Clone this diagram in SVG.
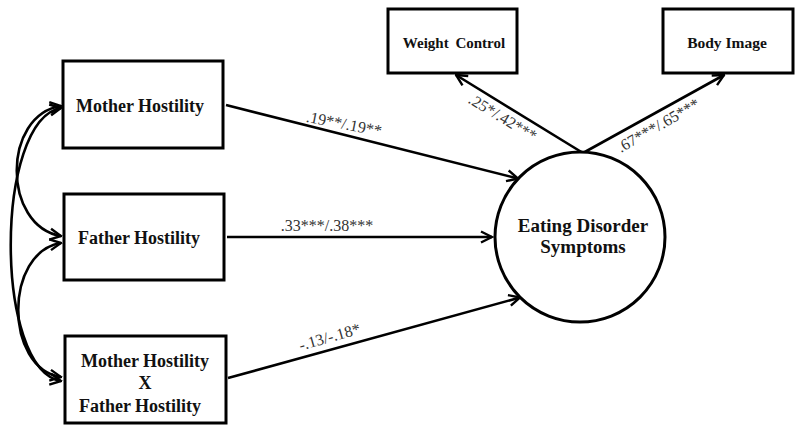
<svg xmlns="http://www.w3.org/2000/svg" width="800" height="432" viewBox="0 0 800 432">
<style>
.box{fill:#fff;stroke:#000;stroke-width:3}
.lbl{font-family:'Liberation Serif','Tinos','Times New Roman','DejaVu Serif',serif;font-weight:bold;fill:#111}
.coef{font-family:'Liberation Serif','Tinos','Times New Roman','DejaVu Serif',serif;font-size:16px;fill:#333}
.conn{fill:none;stroke:#000;stroke-width:2.6}
</style>
<defs>
<marker id="arr" viewBox="0 0 14 14" refX="12.5" refY="7" markerWidth="14" markerHeight="14" markerUnits="userSpaceOnUse" orient="auto-start-reverse">
<path d="M1.5,1.5 L12.5,7 L1.5,12.5" fill="none" stroke="#000" stroke-width="2.4" stroke-linejoin="miter"/>
</marker>
</defs>
<rect width="800" height="432" fill="#fff"/>
<g id="connectors">
<path class="conn" d="M226,105 L518,178.5" marker-end="url(#arr)"/>
<path class="conn" d="M227,237 L492,237" marker-end="url(#arr)"/>
<path class="conn" d="M228,378 L520,297.5" marker-end="url(#arr)"/>
<path class="conn" d="M583,153 L456,75" marker-end="url(#arr)"/>
<path class="conn" d="M583,153 L724,75" marker-end="url(#arr)"/>
<path class="conn" d="M61,106 C2,115 2,226 61,236" marker-start="url(#arr)" marker-end="url(#arr)"/>
<path class="conn" d="M61,108 C-6,120 -6,370 61,381" marker-start="url(#arr)" marker-end="url(#arr)"/>
<path class="conn" d="M61,243 C4,252 4,368 61,377" marker-start="url(#arr)" marker-end="url(#arr)"/>
<text class="coef" transform="translate(343,129) rotate(11)" text-anchor="middle">.19**/.19**</text>
<text class="coef" x="327" y="231" text-anchor="middle">.33***/.38***</text>
<text class="coef" transform="translate(331,342) rotate(-16)" text-anchor="middle">-.13/-.18*</text>
<text class="coef" transform="translate(500,122) rotate(31)" text-anchor="middle">.25*/.42***</text>
<text class="coef" transform="translate(661,130) rotate(-30)" text-anchor="middle">.67***/.65***</text>
</g>
<g id="mother">
<rect class="box" x="63" y="61" width="160" height="87"/>
<text class="lbl" x="140" y="112" font-size="18" text-anchor="middle">Mother Hostility</text>
</g>
<g id="father">
<rect class="box" x="64" y="194" width="160" height="86"/>
<text class="lbl" x="139" y="244" font-size="18" text-anchor="middle">Father Hostility</text>
</g>
<g id="interaction">
<rect class="box" x="65" y="336" width="161" height="87"/>
<text class="lbl" x="145" y="367" font-size="18" text-anchor="middle">Mother Hostility</text>
<text class="lbl" x="145" y="389" font-size="18" text-anchor="middle">X</text>
<text class="lbl" x="140" y="412" font-size="18" text-anchor="middle">Father Hostility</text>
</g>
<g id="eds">
<circle cx="580" cy="237" r="85" fill="#fff" stroke="#000" stroke-width="3"/>
<text class="lbl" x="583" y="232" font-size="19" text-anchor="middle">Eating Disorder</text>
<text class="lbl" x="583" y="253" font-size="19" text-anchor="middle">Symptoms</text>
</g>
<g id="weight">
<rect class="box" x="388" y="9" width="129" height="64"/>
<text class="lbl" x="454" y="48" font-size="15" text-anchor="middle" word-spacing="3">Weight Control</text>
</g>
<g id="body">
<rect class="box" x="663" y="9" width="130" height="64"/>
<text class="lbl" x="727" y="48" font-size="15.5" text-anchor="middle">Body Image</text>
</g>
</svg>
